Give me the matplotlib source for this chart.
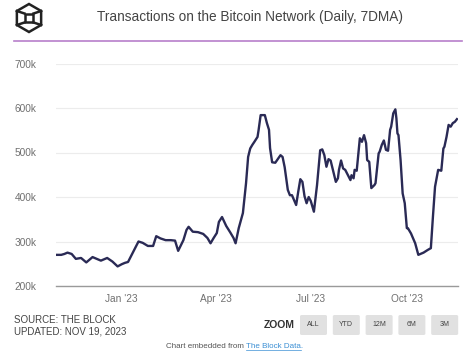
import numpy as np
import pandas as pd
import matplotlib
matplotlib.use("Agg")
import matplotlib.pyplot as plt
from matplotlib.patches import FancyBboxPatch, Polygon
from matplotlib.lines import Line2D

# ============================================================
# data (thousands of tx per day)
# ============================================================

dates = [
    "2022-10-31", "2022-11-04", "2022-11-07", "2022-11-10", "2022-11-14", "2022-11-18",
    "2022-11-23", "2022-11-28", "2022-12-04", "2022-12-12", "2022-12-18", "2022-12-23",
    "2022-12-28", "2023-01-01", "2023-01-04", "2023-01-07", "2023-01-12", "2023-01-17",
    "2023-01-21", "2023-01-26", "2023-01-31", "2023-02-03", "2023-02-07", "2023-02-12",
    "2023-02-17", "2023-02-21", "2023-02-24", "2023-03-01", "2023-03-04", "2023-03-06",
    "2023-03-10", "2023-03-15", "2023-03-20", "2023-03-24", "2023-03-27", "2023-03-30",
    "2023-04-02", "2023-04-04", "2023-04-07", "2023-04-11", "2023-04-15", "2023-04-18",
    "2023-04-20", "2023-04-23", "2023-04-27", "2023-04-30", "2023-05-02", "2023-05-04",
    "2023-05-06", "2023-05-08", "2023-05-11", "2023-05-12", "2023-05-14", "2023-05-18",
    "2023-05-20", "2023-05-22", "2023-05-23", "2023-05-25", "2023-05-28", "2023-06-02",
    "2023-06-04", "2023-06-06", "2023-06-09", "2023-06-11", "2023-06-13", "2023-06-15",
    "2023-06-17", "2023-06-19", "2023-06-21", "2023-06-23", "2023-06-25", "2023-06-27",
    "2023-06-29", "2023-07-01", "2023-07-04", "2023-07-07", "2023-07-10", "2023-07-12",
    "2023-07-14", "2023-07-16", "2023-07-18", "2023-07-20", "2023-07-23", "2023-07-25",
    "2023-07-27", "2023-07-28", "2023-07-30", "2023-08-01", "2023-08-03", "2023-08-05",
    "2023-08-08", "2023-08-09", "2023-08-11", "2023-08-12", "2023-08-14", "2023-08-16",
    "2023-08-17", "2023-08-19", "2023-08-21", "2023-08-23", "2023-08-24", "2023-08-26",
    "2023-08-28", "2023-08-31", "2023-09-01", "2023-09-04", "2023-09-05", "2023-09-07",
    "2023-09-09", "2023-09-11", "2023-09-13", "2023-09-15", "2023-09-16", "2023-09-18",
    "2023-09-20", "2023-09-21", "2023-09-22", "2023-09-23", "2023-09-25", "2023-09-27",
    "2023-09-29", "2023-10-01", "2023-10-02", "2023-10-05", "2023-10-09", "2023-10-12",
    "2023-10-17", "2023-10-21", "2023-10-24", "2023-10-26", "2023-10-28", "2023-10-31",
    "2023-11-03", "2023-11-05", "2023-11-06", "2023-11-08", "2023-11-10", "2023-11-12",
    "2023-11-14", "2023-11-16", "2023-11-18",
]

tx_k = [
    270, 270, 272, 275, 272, 261,
    263, 253, 265, 257, 263, 255,
    244, 249, 252, 254, 277, 300,
    297, 290, 290, 312, 307, 303,
    303, 302, 279, 303, 326, 333,
    322, 321, 317, 308, 296, 308,
    319, 344, 355, 335, 320, 308,
    296, 330, 364, 431, 490, 509,
    517, 524, 535, 550, 584, 584,
    566, 551, 510, 478, 477, 494,
    490, 467, 416, 404, 404, 393,
    382, 412, 440, 434, 402, 386,
    400, 391, 367, 427, 505, 507,
    494, 468, 485, 482, 453, 434,
    442, 461, 482, 464, 461, 452,
    438, 449, 442, 461, 459, 506,
    532, 524, 539, 521, 483, 479,
    420, 427, 431, 498, 502, 517,
    527, 506, 504, 551, 558, 588,
    597, 577, 543, 539, 483, 408,
    386, 330, 330, 318, 296, 270,
    275, 281, 285, 356, 423, 461,
    459, 509, 513, 535, 562, 558,
    566, 569, 575,
]

y_ticks = [200, 300, 400, 500, 600, 700]
x_tick_dates = ["2023-01-01", "2023-04-01", "2023-07-01", "2023-10-01"]
x_tick_labels = ["Jan '23", "Apr '23", "Jul '23", "Oct '23"]
zoom_buttons = ["ALL", "YTD", "12M", "6M", "3M"]

TITLE = "Transactions on the Bitcoin Network (Daily, 7DMA)"

W, H = 476, 355
FONT = ["Liberation Sans", "DejaVu Sans"]


def fx(x):
    return x / W


def fy(y):
    return 1 - y / H


def draw_logo(fig, cx, cy, r):
    # hexagon cube outline with an inner square
    ang = np.deg2rad(np.arange(90, 450, 60))
    hx = cx + r * np.cos(ang)
    hy = cy - r * np.sin(ang)
    pts = [(fx(a), fy(b)) for a, b in zip(hx, hy)]
    fig.patches.append(Polygon(pts, closed=True, fill=False, lw=1.8,
                               ec="#222222", transform=fig.transFigure))
    s = r * 0.32
    sq = [(cx - s, cy - s), (cx + s, cy - s), (cx + s, cy + s), (cx - s, cy + s)]
    fig.patches.append(Polygon([(fx(a), fy(b)) for a, b in sq], closed=True,
                               fill=False, lw=1.8, ec="#222222",
                               transform=fig.transFigure))
    # corners of the square to the side vertices
    side = [(hx[1], hy[1]), (hx[2], hy[2]), (hx[4], hy[4]), (hx[5], hy[5])]
    corners = [(cx - s, cy - s), (cx - s, cy + s), (cx + s, cy + s), (cx + s, cy - s)]
    for (a, b), (c, d) in zip(corners, side):
        fig.lines.append(Line2D([fx(a), fx(c)], [fy(b), fy(d)], lw=1.8,
                                color="#222222", transform=fig.transFigure))


def main():
    fig = plt.figure(figsize=(W / 100, H / 100), dpi=100)
    fig.patch.set_facecolor("white")

    # header
    draw_logo(fig, 29, 18, 14)
    fig.text(fx(250), fy(17), TITLE, ha="center", va="center",
             fontsize=9.8, color="#444444", family=FONT)
    fig.lines.append(Line2D([fx(14), fx(462)], [fy(41), fy(41)], lw=1.2,
                            color="#b77fcb", transform=fig.transFigure))

    # plot area
    ax = fig.add_axes([fx(56), fy(286), fx(458) - fx(56), fy(63.5) - fy(286)])
    x = pd.to_datetime(dates)
    ax.plot(x, tx_k, color="#2a2a55", lw=1.7, solid_joinstyle="round")

    ax.set_ylim(200, 700)
    ax.set_yticks(y_ticks)
    ax.set_yticklabels([f"{v}k" for v in y_ticks])
    ax.set_xlim(pd.Timestamp("2022-10-30"), pd.Timestamp("2023-11-19"))
    ax.set_xticks(pd.to_datetime(x_tick_dates))
    ax.set_xticklabels(x_tick_labels)

    ax.grid(axis="y", color="#ececec", lw=0.8)
    ax.set_axisbelow(True)
    for side in ["top", "right", "left"]:
        ax.spines[side].set_visible(False)
    ax.spines["bottom"].set_color("#9a9a9a")
    ax.spines["bottom"].set_linewidth(1.0)
    ax.tick_params(axis="both", length=0, labelsize=7.3, labelcolor="#707070")
    ax.tick_params(axis="y", pad=14)
    ax.tick_params(axis="x", pad=6)
    for lab in ax.get_xticklabels() + ax.get_yticklabels():
        lab.set_family(FONT)

    # footer
    fig.text(fx(14), fy(320), "SOURCE: THE BLOCK", ha="left", va="center",
             fontsize=7, color="#444444", family=FONT)
    fig.text(fx(14), fy(331), "UPDATED: NOV 19, 2023", ha="left", va="center",
             fontsize=7, color="#444444", family=FONT)

    fig.text(fx(279), fy(325), "ZOOM", ha="center", va="center",
             fontsize=7.5, fontweight="bold", color="#333333", family=FONT)
    for i, lab in enumerate(zoom_buttons):
        x0 = 300 + i * 32.8
        fig.patches.append(FancyBboxPatch((fx(x0), fy(335)), fx(27), fy(315) - fy(335),
                                          boxstyle="round,pad=0,rounding_size=0.004",
                                          fc="#e1e1e1", ec="none",
                                          transform=fig.transFigure))
        fig.text(fx(x0 + 13.5), fy(325), lab, ha="center", va="center",
                 fontsize=5, color="#444444", family=FONT)

    t1 = fig.text(fx(166), fy(346), "Chart embedded from ", ha="left", va="center",
                  fontsize=5.8, color="#555555", family=FONT)
    fig.canvas.draw()
    bb = t1.get_window_extent()
    t2 = fig.text(bb.x1 / W, fy(346), "The Block Data.", ha="left", va="center",
                  fontsize=5.8, color="#3b8fd4", family=FONT)
    bb2 = t2.get_window_extent()
    fig.lines.append(Line2D([bb2.x0 / W, (bb2.x1 - 2) / W], [fy(350), fy(350)], lw=0.5,
                            color="#3b8fd4", transform=fig.transFigure))

    fig.savefig("out.png", dpi=100, facecolor="white")
    plt.close(fig)


if __name__ == "__main__":
    main()
